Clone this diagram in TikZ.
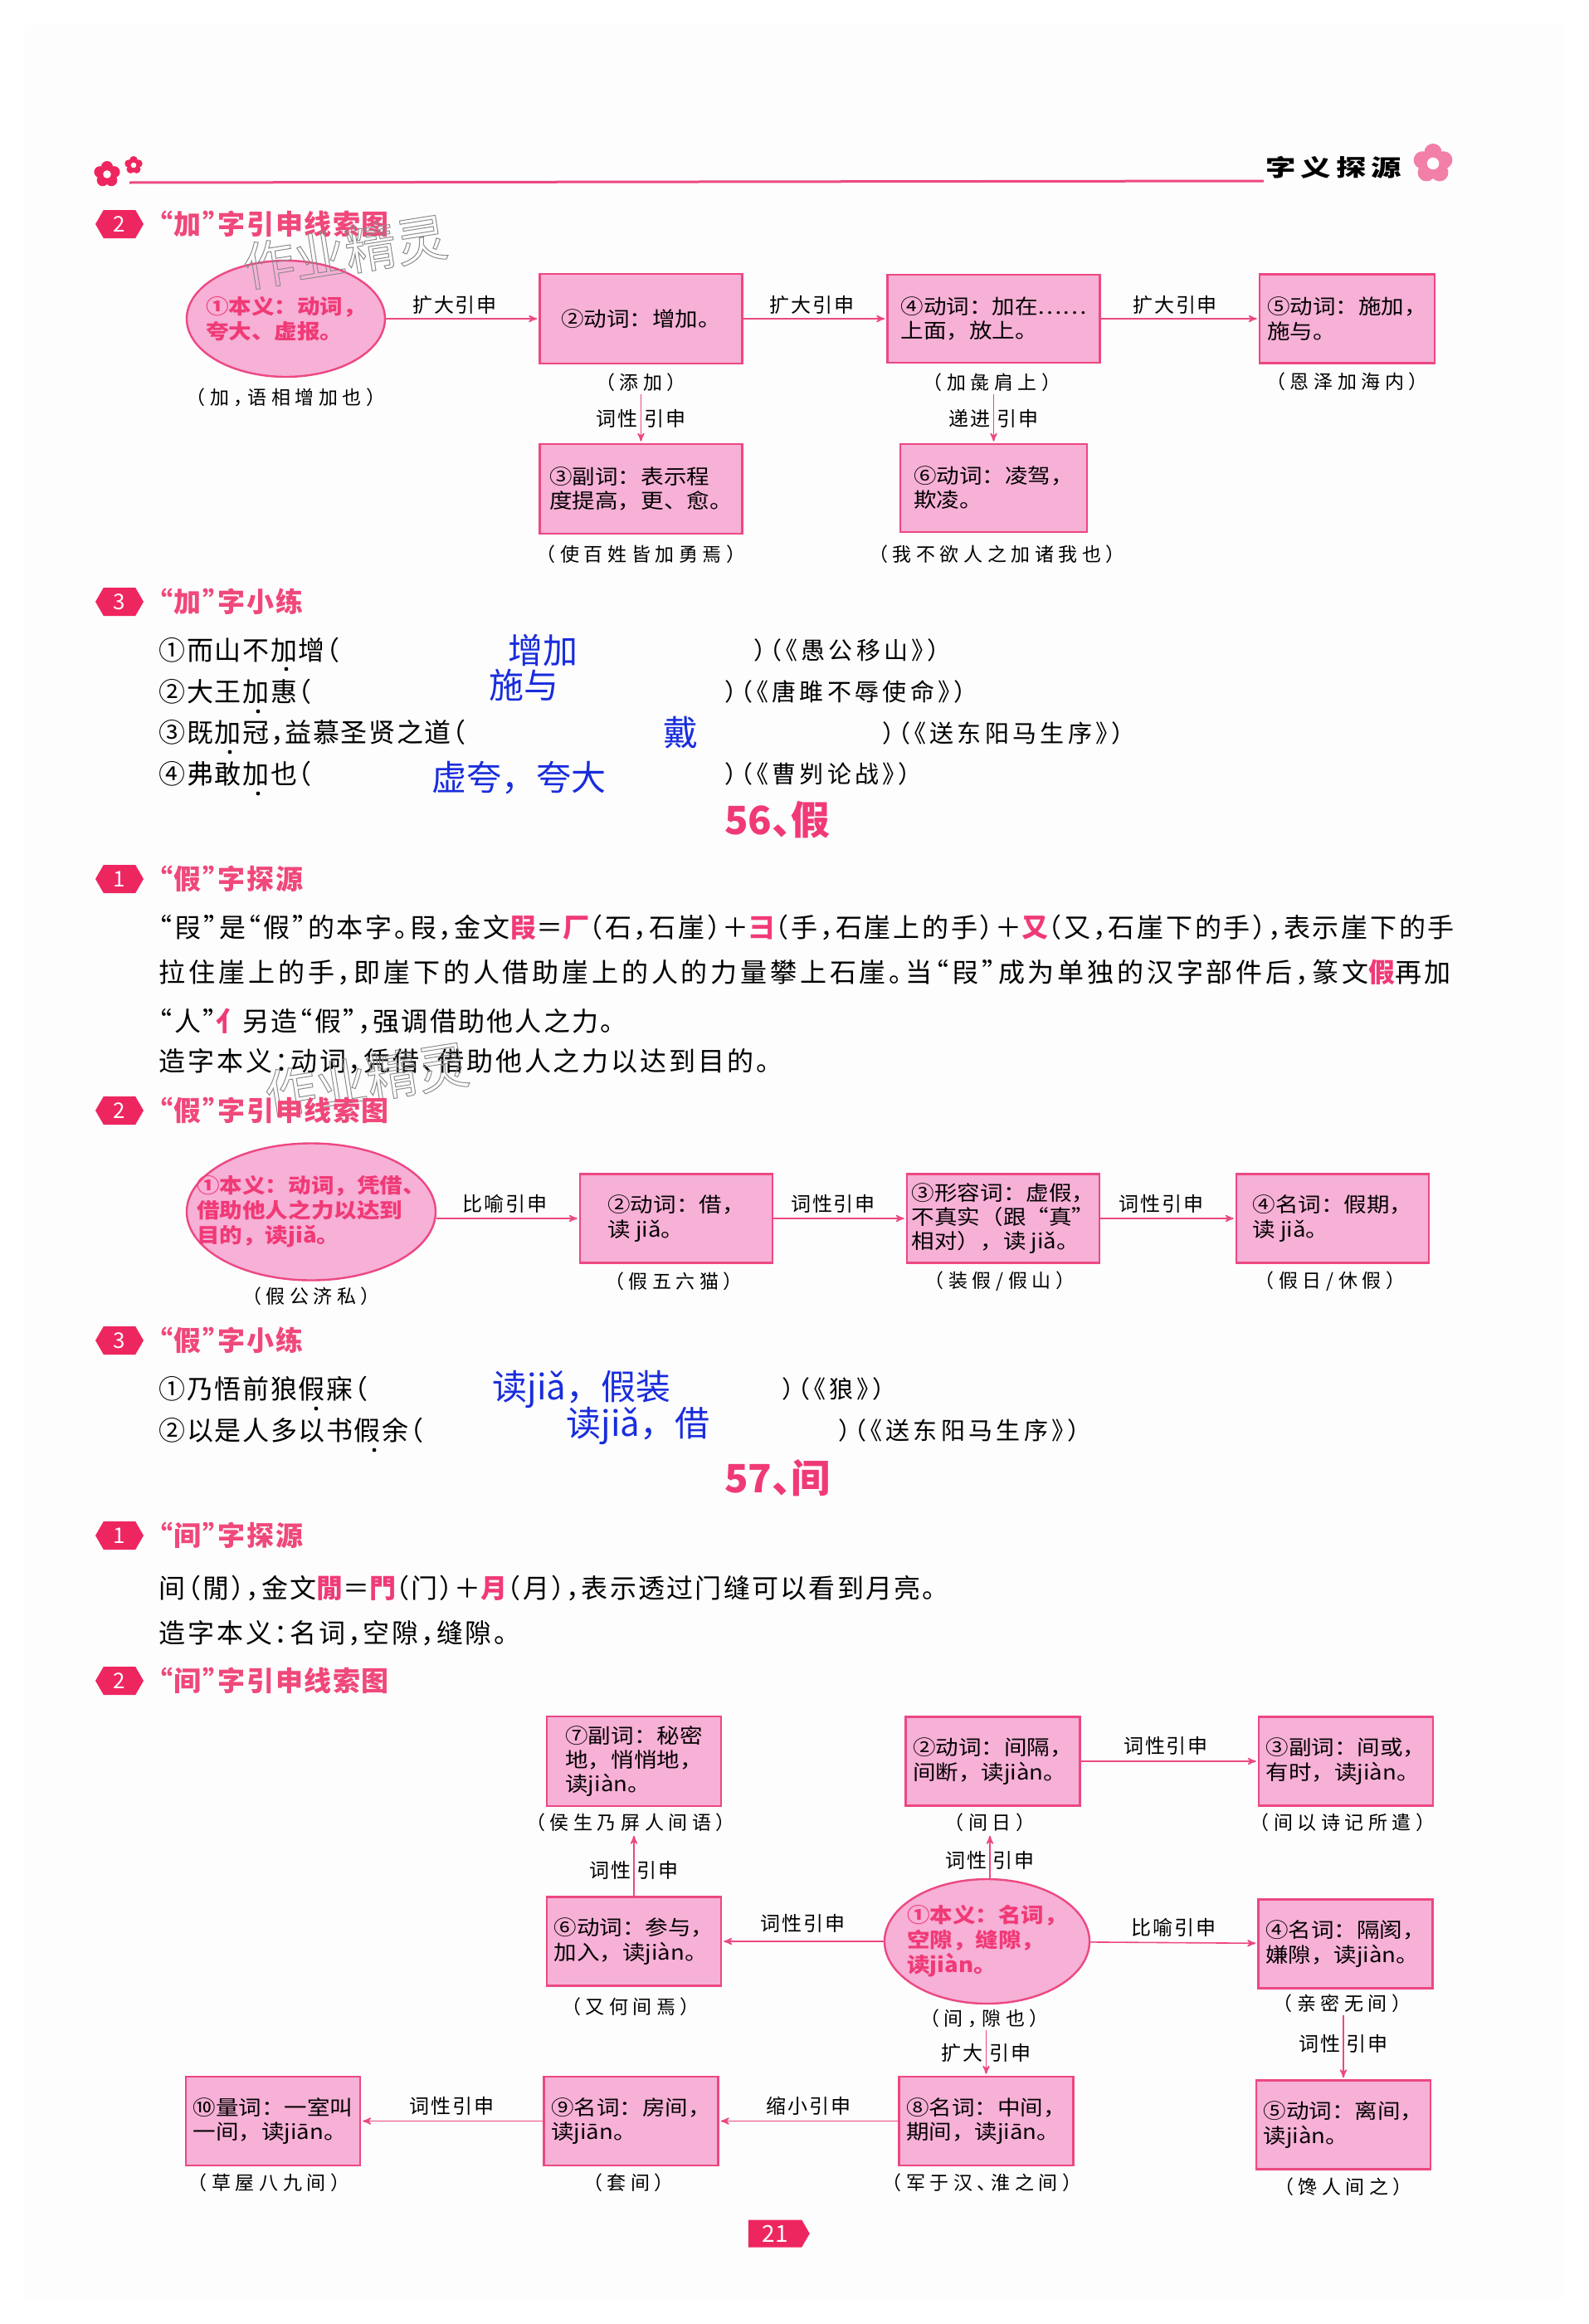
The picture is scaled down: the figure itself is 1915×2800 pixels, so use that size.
\documentclass[tikz,border=0pt]{standalone}
\usepackage{fontspec}
\usepackage{xcolor}
\usetikzlibrary{arrows,positioning,shapes}

\setmainfont{Noto Sans CJK SC}
\newfontfamily\plainfont[RawFeature=+halt,LetterSpace=5]{Noto Sans CJK SC}
\newfontfamily\boxfont[FakeStretch=1.12]{Noto Sans CJK SC}
\newfontfamily\lblfont[LetterSpace=8]{Noto Sans CJK SC}
\newfontfamily\capfont[RawFeature=+halt,LetterSpace=24]{Noto Sans CJK SC}
\newfontfamily\srcfont[RawFeature=+halt,LetterSpace=15]{Noto Sans CJK SC}
\newfontfamily\headfont[RawFeature=+halt,LetterSpace=5]{Noto Sans CJK SC}
\newfontfamily\titlefont[RawFeature=+halt]{Noto Sans CJK SC}

\definecolor{linepink}{RGB}{236,72,130}
\definecolor{boxpink}{RGB}{247,176,214}
\definecolor{headpink}{RGB}{240,72,122}
\definecolor{inkpink}{RGB}{240,58,118}
\definecolor{tagred}{RGB}{238,38,96}
\definecolor{inkblue}{RGB}{25,45,220}
\definecolor{pagegrey}{RGB}{253,253,254}

\newcommand{\seal}[1]{{\color{inkpink}\bfseries #1}}
\newcommand{\spaced}[2]{{\addfontfeature{LetterSpace=#1}#2}}
\newcommand{\outlined}[1]{\special{pdf:code 1 Tr 0.5 w 0.55 0.55 0.55 RG}#1\special{pdf:code 0 Tr 1 w 0 0 0 RG}}

\begin{document}
\begin{tikzpicture}[x=0.5pt,y=-0.5pt,>=stealth',shorten >=1pt,line width=0.8pt]
  \tikzstyle{every edge}=[draw=linepink,->]
  \tikzstyle{yinbox}=[draw=linepink,fill=boxpink,rectangle,line width=1.3pt,inner sep=0pt,align=left,text=black,font=\fontsize{12.3pt}{14.6pt}\boxfont]
  \tikzstyle{benyi}=[draw=linepink,fill=boxpink,ellipse,line width=1.2pt,inner sep=-14pt,align=left,text=inkpink,font=\fontsize{12.3pt}{15pt}\boxfont\bfseries]
  \tikzstyle{lbl}=[inner sep=1pt,text=black,font=\fontsize{12pt}{14pt}\lblfont]
  \tikzstyle{captext}=[inner sep=1pt,text=black,font=\fontsize{11.5pt}{12pt}\capfont]
  \tikzstyle{badge}=[signal,signal to=east and west,signal pointer angle=120,fill=tagred,text=white,inner sep=0pt,minimum height=17pt,minimum width=29pt,font=\fontsize{13pt}{14pt}\selectfont]
  \tikzstyle{headtext}=[anchor=west,inner sep=0pt,text=headpink,font=\fontsize{16.5pt}{18pt}\headfont\bfseries]
  \tikzstyle{bodytext}=[anchor=west,inner sep=0pt,text=black,font=\fontsize{16pt}{18pt}\plainfont]
  \tikzstyle{srctext}=[anchor=west,inner sep=0pt,text=black,font=\fontsize{14.5pt}{18pt}\srcfont]
  \tikzstyle{answer}=[inner sep=0pt,text=inkblue,font=\fontsize{21pt}{22pt}\selectfont]
  \tikzstyle{emdot}=[circle,fill=black,inner sep=0pt,minimum size=2.4pt]
  \tikzstyle{title}=[inner sep=0pt,text=inkpink,font=\fontsize{23.5pt}{25pt}\titlefont\bfseries]
  \tikzstyle{wmark}=[inner sep=0pt,font=\fontsize{31pt}{32pt}\selectfont,rotate=9]

  \useasboundingbox (0,0) rectangle (1915,2800);
  \fill[pagegrey] (30,30) rectangle (1885,2770);

  % page head
  \foreach \fx/\fy/\fr/\fc in {129/210/16/tagred,161/199/11/tagred,1727/197/24/linepink!70}{
    \foreach \fa in {-90,-18,54,126,198}
      \fill[\fc] (\fx,\fy) ++(\fa:\fr*0.56) circle (\fr*0.44);
    \fill[white] (\fx,\fy) circle (\fr*0.3);
  }
  \draw[-,linepink,line width=1.5pt] (156,220) -- (1525,218);
  \node[inner sep=0pt,font=\fontsize{14pt}{16pt}\selectfont\bfseries,xscale=1.3,transform shape] (runhead) at (1607,202) {字\,义\,探\,源};

  % jia
  \node[badge] (b1) at (144,270) {2};
  \node[headtext] (h1) at (191,270) {“加”字引申线索图};
  \node[benyi,minimum width=119.5pt,minimum height=70pt] (ja1) at (344.5,384) {①本义：动词，\\夸大、虚报。};
  \node[yinbox,minimum width=122pt,minimum height=54pt] (ja2) [right of=ja1,node distance=214pt] {②动词：增加。};
  \node[yinbox,minimum width=128pt,minimum height=53pt] (ja4) [right of=ja2,node distance=212.5pt] {④动词：加在……\\上面，放上。};
  \node[yinbox,minimum width=105.5pt,minimum height=53.5pt] (ja5) [right of=ja4,node distance=213pt] {⑤动词：施加，\\施与。};
  \node[yinbox,minimum width=122pt,minimum height=54pt] (ja3) [below of=ja2,node distance=102.5pt] {③副词：表示程\\度提高，更、愈。};
  \node[yinbox,minimum width=112.5pt,minimum height=53pt] (ja6) [below of=ja4,node distance=102pt] {⑥动词：凌驾，\\欺凌。};
  \node[captext] (cja1) [below of=ja1,node distance=47.5pt] {（加，语相增加也）};
  \node[captext] (cja2) [below of=ja2,node distance=38.5pt] {（添加）};
  \node[captext] (cja3) [below of=ja3,node distance=39.5pt] {（使百姓皆加勇焉）};
  \node[captext] (cja4) [below of=ja4,node distance=38.5pt,xshift=-1pt] {（加彘肩上）};
  \node[captext] (cja5) [below of=ja5,node distance=38pt] {（恩泽加海内）};
  \node[captext] (cja6) [below of=ja6,node distance=40pt,xshift=2pt] {（我不欲人之加诸我也）};
  \path (ja1) edge node[lbl,above=1.5pt,pos=.45] {扩大引申} (ja2);
  \path (ja2) edge node[lbl,above=1.5pt,pos=.48] {扩大引申} (ja4);
  \path (ja4) edge node[lbl,above=1.5pt,pos=.47] {扩大引申} (ja5);
  \path (cja2.south -| ja3) edge node[lbl] {词性\ 引申} (ja3);
  \path (cja4.south -| ja6) edge node[lbl] {递进\ 引申} (ja6);

  \node[badge] (b2) at (144,725) {3};
  \node[headtext] (h2) at (191,725) {“加”字小练};
  \node[bodytext] (qa1) at (191,783) {①而山不加增（};
  \node[bodytext] (qa2) at (191,833) {②大王加惠（};
  \node[bodytext] (qa3) at (191,883) {③既加冠，益慕圣贤之道（};
  \node[bodytext] (qa4) at (191,932) {④弗敢加也（};
  \node[srctext] (sa1) at (908,783) {）（《愚公移山》）};
  \node[srctext] (sa2) at (873,833) {）（《唐雎不辱使命》）};
  \node[srctext] (sa3) at (1063,883) {）（《送东阳马生序》）};
  \node[srctext] (sa4) at (873,932) {）（《曹刿论战》）};
  \node[answer] (ra1) at (654,784) {增加};
  \node[answer] (ra2) at (631,826) {施与};
  \node[answer] (ra3) at (820,883) {戴};
  \node[answer] (ra4) at (625,937) {虚夸，夸大};
  \node[emdot] (da1) at (345,806) {};
  \node[emdot] (da2) at (311,857) {};
  \node[emdot] (da3) at (277,906) {};
  \node[emdot] (da4) at (311,956) {};

  % jia3
  \node[title] (t56) at (937,988) {56、假};
  \node[badge] (b3) at (144,1059) {1};
  \node[headtext] (h3) at (191,1059) {“假”字探源};
  \node[bodytext] (la1) at (191,1118) {\spaced{8.6}{“叚”是“假”的本字。叚，金文\seal{叚}＝\seal{厂}（石，石崖）＋\seal{彐}（手，石崖上的手）＋\seal{又}（又，石崖下的手），表示崖下的手}};
  \node[bodytext] (la2) at (191,1172) {\spaced{12}{拉住崖上的手，即崖下的人借助崖上的人的力量攀上石崖。当“叚”成为单独的汉字部件后，篆文\seal{假}再加}};
  \node[bodytext] (la3) at (191,1230) {\spaced{7}{“人”\seal{亻}另造“假”，强调借助他人之力。}};
  \node[bodytext] (la4) at (191,1279) {\spaced{9}{造字本义：动词，凭借、借助他人之力以达到目的。}};

  \node[wmark] (wm1) at (416,303) {\outlined{作业精灵}};
  \node[wmark] (wm2) at (442,1300) {\outlined{作业精灵}};

  \node[badge] (b4) at (144,1338) {2};
  \node[headtext] (h4) at (191,1338) {“假”字引申线索图};
  \node[benyi,inner sep=-16.5pt,minimum width=150pt,minimum height=82.5pt] (xia1) at (375,1460) {①本义：动词，凭借、\\借助他人之力以达到\\目的，读jiǎ。};
  \node[yinbox,minimum width=116pt,minimum height=53.5pt] (xia2) [right of=xia1,node distance=220pt,yshift=-4pt] {②动词：借，\\读 jiǎ。};
  \node[yinbox,minimum width=116pt,minimum height=53.5pt] (xia3) [right of=xia2,node distance=197pt] {③形容词：虚假，\\不真实（跟“真”\\相对），读 jiǎ。};
  \node[yinbox,minimum width=116pt,minimum height=53.5pt] (xia4) [right of=xia3,node distance=198.5pt] {④名词：假期，\\读 jiǎ。};
  \node[captext] (cxia1) [below of=xia1,node distance=51pt] {（假公济私）};
  \node[captext] (cxia2) [below of=xia2,node distance=38pt,xshift=-1.5pt] {（假五六猫）};
  \node[captext] (cxia3) [below of=xia3,node distance=38pt,xshift=-2pt] {（装假/假山）};
  \node[captext] (cxia4) [below of=xia4,node distance=38pt,xshift=-1.5pt] {（假日/休假）};
  \path ([yshift=-4pt]xia1.east) edge node[lbl,above=2pt,pos=.48] {比喻引申} (xia2);
  \path (xia2) edge node[lbl,above=2pt,pos=.45] {词性引申} (xia3);
  \path (xia3) edge node[lbl,above=2pt,pos=.45] {词性引申} (xia4);

  \node[badge] (b5) at (144,1615) {3};
  \node[headtext] (h5) at (191,1615) {“假”字小练};
  \node[bodytext] (qb1) at (191,1673) {①乃悟前狼假寐（};
  \node[bodytext] (qb2) at (191,1723) {②以是人多以书假余（};
  \node[srctext] (sb1) at (942,1673) {）（《狼》）};
  \node[srctext] (sb2) at (1010,1723) {）（《送东阳马生序》）};
  \node[answer] (rb1) at (701,1674) {读jiǎ，假装};
  \node[answer] (rb2) at (769,1718) {读jiǎ，借};
  \node[emdot] (db1) at (381,1697) {};
  \node[emdot] (db2) at (451,1747) {};

  % jian
  \node[title] (t57) at (937,1781) {57、间};
  \node[badge] (b6) at (144,1850) {1};
  \node[headtext] (h6) at (191,1850) {“间”字探源};
  \node[bodytext] (lb1) at (191,1913) {\spaced{7}{间（閒），金文\seal{閒}＝\seal{門}（门）＋\seal{月}（月），表示透过门缝可以看到月亮。}};
  \node[bodytext] (lb2) at (191,1968) {\spaced{8.6}{造字本义：名词，空隙，缝隙。}};

  \node[badge] (b7) at (144,2025) {2};
  \node[headtext] (h7) at (191,2025) {“间”字引申线索图};
  \node[benyi,minimum width=123.5pt,minimum height=75pt] (jian1) at (1189.5,2339) {①本义：名词，\\空隙，缝隙，\\读jiàn。};
  \node[yinbox,minimum width=105pt,minimum height=53.5pt] (jian2) [above of=jian1,node distance=108.5pt,xshift=3.5pt] {②动词：间隔，\\间断，读jiàn。};
  \node[yinbox,minimum width=105pt,minimum height=53.5pt] (jian3) [right of=jian2,node distance=212.75pt] {③副词：间或，\\有时，读jiàn。};
  \node[yinbox,minimum width=105pt,minimum height=53.5pt] (jian4) [right of=jian1,node distance=216pt,yshift=-1.5pt] {④名词：隔阂，\\嫌隙，读jiàn。};
  \node[yinbox,minimum width=105pt,minimum height=53.5pt] (jian5) [below of=jian4,node distance=109pt,xshift=-1.25pt] {⑤动词：离间，\\读jiàn。};
  \node[yinbox,minimum width=105pt,minimum height=53.5pt] (jian6) [left of=jian1,node distance=212.75pt] {⑥动词：参与，\\加入，读jiàn。};
  \node[yinbox,minimum width=105pt,minimum height=54pt] (jian7) [above of=jian6,node distance=108.5pt] {⑦副词：秘密\\地，悄悄地，\\读jiàn。};
  \node[yinbox,minimum width=105pt,minimum height=53.5pt] (jian8) [below of=jian1,node distance=108.25pt,xshift=-0.5pt] {⑧名词：中间，\\期间，读jiān。};
  \node[yinbox,minimum width=105pt,minimum height=53.5pt] (jian9) [left of=jian8,node distance=214pt] {⑨名词：房间，\\读jiān。};
  \node[yinbox,minimum width=105pt,minimum height=53.5pt] (jian10) [left of=jian9,node distance=215.75pt] {⑩量词：一室叫\\一间，读jiān。};
  \node[captext] (cjian1) [below of=jian1,node distance=46.5pt,xshift=-1.5pt] {（间，隙也）};
  \node[captext] (cjian2) [below of=jian2,node distance=37pt,xshift=-1.75pt] {（间日）};
  \node[captext] (cjian3) [below of=jian3,node distance=37pt,xshift=-2pt] {（间以诗记所遣）};
  \node[captext] (cjian4) [below of=jian4,node distance=36pt,xshift=-2pt] {（亲密无间）};
  \node[captext] (cjian5) [below of=jian5,node distance=37.5pt] {（馋人间之）};
  \node[captext] (cjian6) [below of=jian6,node distance=39.5pt,xshift=-2pt] {（又何间焉）};
  \node[captext] (cjian7) [below of=jian7,node distance=37pt,xshift=-2pt] {（侯生乃屏人间语）};
  \node[captext] (cjian8) [below of=jian8,node distance=37pt,xshift=-2.5pt] {（军于汉、淮之间）};
  \node[captext] (cjian9) [below of=jian9,node distance=37pt,xshift=-1.5pt] {（套间）};
  \node[captext] (cjian10) [below of=jian10,node distance=37pt,xshift=-2.5pt] {（草屋八九间）};
  \path (jian1.north -| cjian2) edge node[lbl,pos=.4] {词性\ 引申} (cjian2);
  \path (jian2) edge node[lbl,above=2.5pt,pos=.48] {词性引申} (jian3);
  \path (jian1) edge node[lbl,above=2pt] {比喻引申} (jian4);
  \path (cjian4.south -| jian5) edge node[lbl,pos=.45] {词性\ 引申} (jian5);
  \path (jian1) edge node[lbl,above=4pt] {词性引申} (jian6);
  \path (jian6) edge node[lbl,pos=.42] {词性\ 引申} (cjian7.south -| jian6);
  \path (cjian1.south -| jian8) edge node[lbl] {扩大\ 引申} (jian8);
  \path (jian8) edge node[lbl,above=2pt] {缩小引申} (jian9);
  \path (jian9) edge node[lbl,above=2pt] {词性引申} (jian10);

  \node[signal,signal to=east,signal pointer angle=120,fill=tagred,text=white,inner sep=0pt,minimum height=16.5pt,minimum width=37pt,font=\fontsize{14pt}{16pt}\selectfont] (page) at (934,2691) {21};
\end{tikzpicture}
\end{document}
